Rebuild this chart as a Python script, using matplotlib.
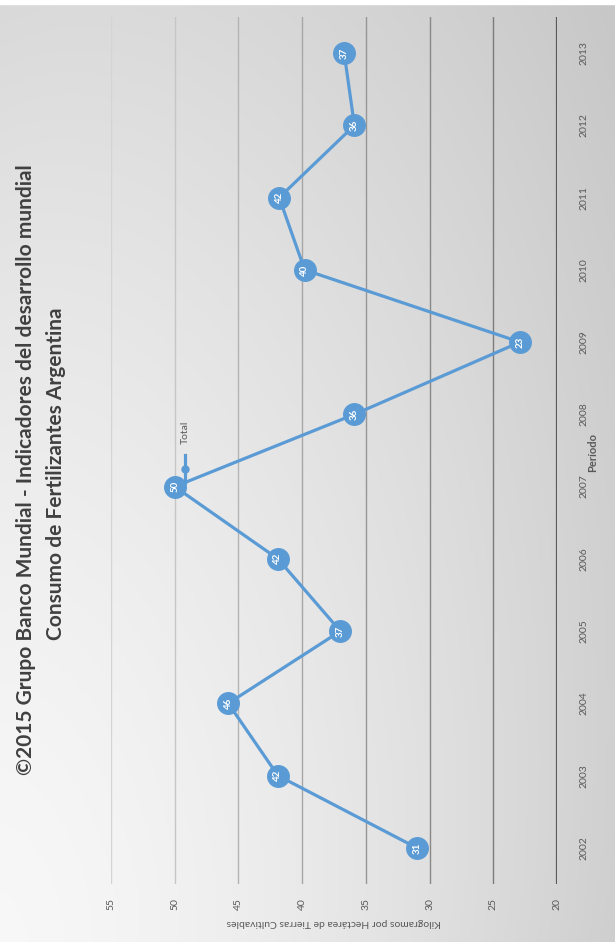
import numpy as np
import matplotlib
matplotlib.use('Agg')
import matplotlib.pyplot as plt
from matplotlib.lines import Line2D

# Data
years = ['2002', '2003', '2004', '2005', '2006', '2007',
         '2008', '2009', '2010', '2011', '2012', '2013']
values = [31.0, 41.9, 45.8, 37.0, 41.9, 50.0, 35.9, 22.9, 39.8, 41.8, 35.9, 36.7]
value_ticks = [20, 25, 30, 35, 40, 45, 50, 55]

title_1 = '©2015 Grupo Banco Mundial - Indicadores del desarrollo mundial'
title_2 = 'Consumo de Fertilizantes Argentina'
y_title = 'Kilogramos por Hectárea de Tierras Cultivables'
x_title = 'Período'
series_name = 'Total'

W, H = 615, 942
blue = '#5b9bd5'
grey_txt = '#595959'
plt.rcParams['font.family'] = ['Lato', 'DejaVu Sans']

fig = plt.figure(figsize=(W / 100, H / 100), dpi=100)

# background gradient (light bottom-left, darker top-right)
bg = fig.add_axes([0, 0, 1, 1], zorder=-10)
gx, gy = np.meshgrid(np.linspace(0, 1, 200), np.linspace(0, 1, 300))
t = 1 - gy
shade = 0.97 - 0.16 * gx ** 1.5 - 0.12 * t ** 1.5 + 0.09 * gx * t
bg.imshow(np.dstack([shade] * 3), extent=[0, 1, 0, 1], origin='upper',
          aspect='auto')
bg.axhspan(1 - 4 / H, 1, color='white')
bg.set_xlim(0, 1)
bg.set_ylim(0, 1)
bg.axis('off')

# plot area (chart drawn rotated: values run right->left, years bottom->top)
left, right, top, bottom = 111, 557, 17, 884
ax = fig.add_axes([left / W, 1 - bottom / H, (right - left) / W, (bottom - top) / H])
ax.patch.set_alpha(0)
ax.set_xlim(55, 20)
ax.set_ylim(-0.5, len(years) - 0.5)
for s in ax.spines.values():
    s.set_visible(False)

grid_cols = {25: '#7c7c7c', 30: '#888888', 35: '#969696', 40: '#a6a6a6',
             45: '#b4b4b4', 50: '#c6c6c6', 55: '#d4d4d4'}
for v, c in grid_cols.items():
    ax.axvline(v, color=c, lw=1.0, zorder=1)
ax.axvline(20, color='#5a5a5a', lw=1.6, zorder=2)

ypos = np.arange(len(years))
ax.plot(values, ypos, color=blue, lw=2.3, marker='o', markersize=15.5,
        markeredgecolor=blue, zorder=3, solid_capstyle='round')
for v, y in zip(values, ypos):
    ax.text(v, y, f'{v:.0f}', rotation=90, ha='center', va='center',
            color='white', fontsize=7, fontweight='bold', zorder=4)

ax.set_xticks(value_ticks)
ax.set_xticklabels([str(t) for t in value_ticks], rotation=90,
                   color=grey_txt, fontsize=7.5)
ax.set_yticks(ypos)
ax.set_yticklabels(years, rotation=90, va='center', color=grey_txt, fontsize=7.5)
ax.yaxis.tick_right()
ax.tick_params(axis='both', length=0)
ax.tick_params(axis='x', pad=10)
ax.tick_params(axis='y', pad=16)

# axis titles
fig.text(334 / W, 1 - 922 / H, y_title, rotation=180, ha='center', va='center',
         color=grey_txt, fontsize=7.5)
fig.text(593 / W, 1 - 452 / H, x_title, rotation=90, ha='center', va='center',
         color=grey_txt, fontsize=8, fontweight='bold')

# chart titles
fig.text(26 / W, 1 - 470 / H, title_1, rotation=90, ha='center', va='center',
         color='#404040', fontsize=15, fontweight='bold')
fig.text(56 / W, 1 - 474 / H, title_2, rotation=90, ha='center', va='center',
         color='#404040', fontsize=15, fontweight='bold')

# legend
fig.add_artist(Line2D([185 / W, 185 / W], [1 - 483 / H, 1 - 455 / H],
                      transform=fig.transFigure, color=blue, lw=2.3))
fig.add_artist(Line2D([185 / W], [1 - 469 / H], transform=fig.transFigure,
                      color=blue, marker='o', markersize=5))
fig.text(185 / W, 1 - 432 / H, series_name, rotation=90, ha='center',
         va='center', color=grey_txt, fontsize=7.5)

fig.savefig('out.png', dpi=100)
